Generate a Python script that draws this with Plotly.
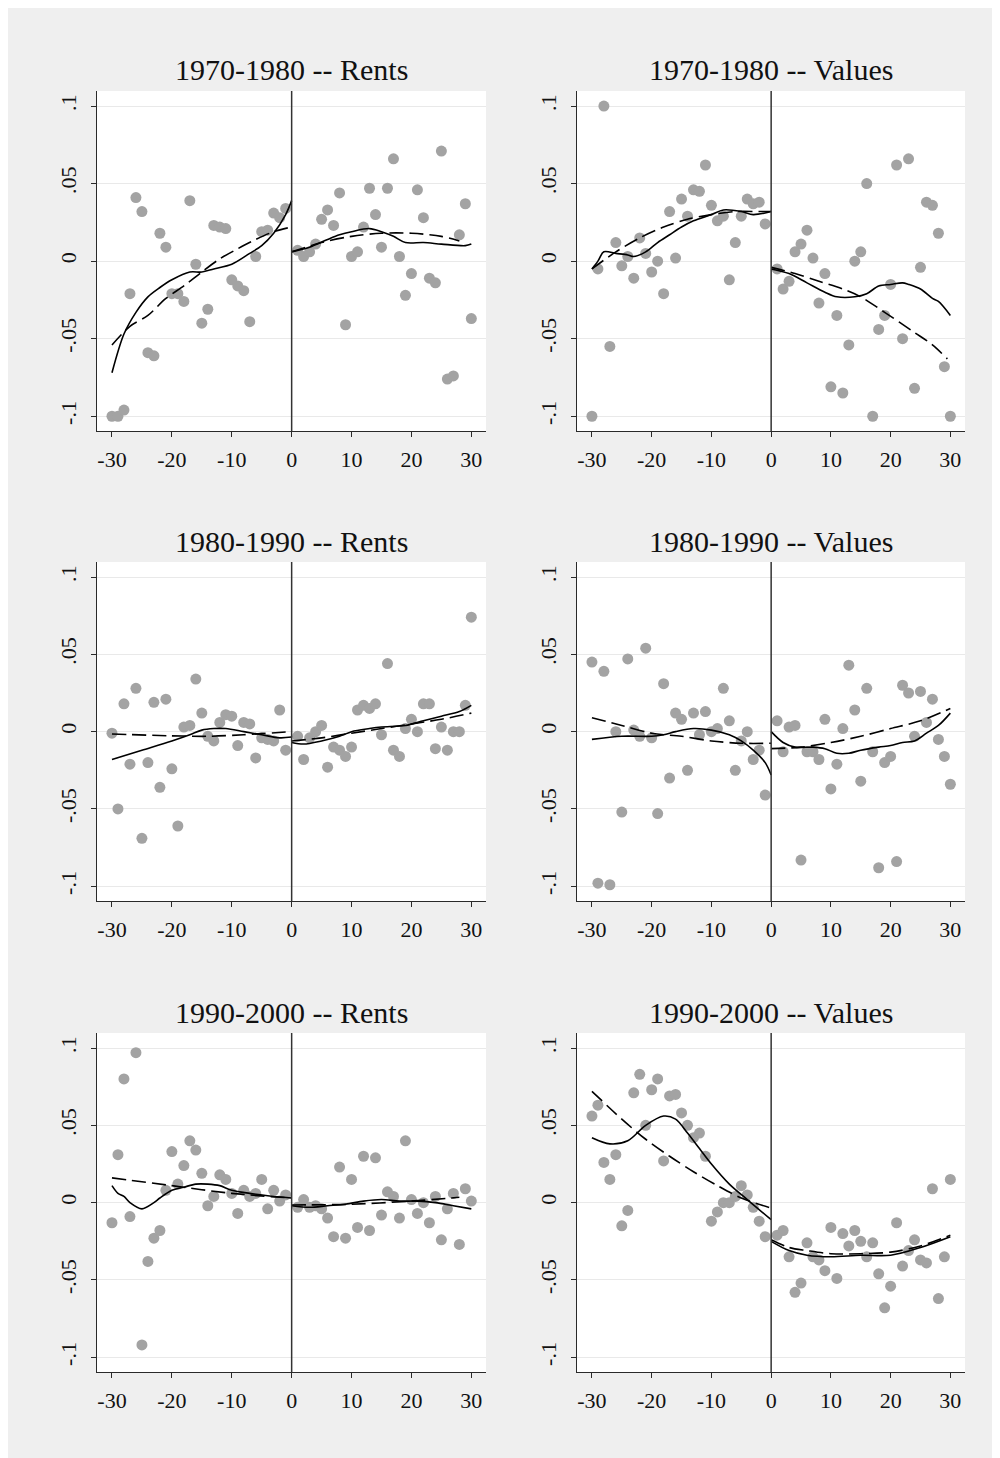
import plotly.graph_objects as go

# ---------------- data ----------------
X_LEFT = list(range(-30, 0))
X_RIGHT = list(range(1, 31))

TITLES = ["1970-1980 -- Rents", "1970-1980 -- Values",
          "1980-1990 -- Rents", "1980-1990 -- Values",
          "1990-2000 -- Rents", "1990-2000 -- Values"]

X_TICKS = [-30, -20, -10, 0, 10, 20, 30]
X_TICKTEXT = ["-30", "-20", "-10", "0", "10", "20", "30"]
Y_TICKS = [-0.1, -0.05, 0, 0.05, 0.1]
Y_TICKTEXT = ["-.1", "-.05", "0", ".05", ".1"]

# --- 1970-1980 Rents
r7080_left = [-0.100, -0.100, -0.096, -0.021, 0.041, 0.032, -0.059, -0.061, 0.018, 0.009,
              -0.021, -0.021, -0.026, 0.039, -0.002, -0.040, -0.031, 0.023, 0.022, 0.021,
              -0.012, -0.016, -0.019, -0.039, 0.003, 0.019, 0.020, 0.031, 0.028, 0.034]
r7080_right = [0.007, 0.003, 0.006, 0.011, 0.027, 0.033, 0.023, 0.044, -0.041, 0.003,
               0.006, 0.022, 0.047, 0.030, 0.009, 0.047, 0.066, 0.003, -0.022, -0.008,
               0.046, 0.028, -0.011, -0.014, 0.071, -0.076, -0.074, 0.017, 0.037, -0.037]
r7080_fitL_x = [-30, -27, -24, -21, -18, -15, -12, -9, -6, -3, 0]
r7080_fitL_y = [-0.054, -0.042, -0.035, -0.024, -0.016, -0.007, 0.0015, 0.008, 0.014, 0.019, 0.022]
r7080_lowL_x = [-30, -28, -26, -24, -22, -20, -17, -15, -13, -10, -7, -5, -3, -1, 0]
r7080_lowL_y = [-0.072, -0.047, -0.033, -0.023, -0.017, -0.012, -0.007, -0.007, -0.005, -0.002,
                0.005, 0.010, 0.018, 0.030, 0.039]
r7080_fitR_x = [0, 5, 10, 15, 20, 25, 28]
r7080_fitR_y = [0.006, 0.012, 0.016, 0.018, 0.018, 0.016, 0.013]
r7080_lowR_x = [0, 3, 6, 8, 10, 13, 15, 17, 19, 22, 25, 29, 30]
r7080_lowR_y = [0.006, 0.009, 0.014, 0.017, 0.019, 0.021, 0.019, 0.016, 0.012, 0.012, 0.011, 0.010, 0.011]

# --- 1970-1980 Values
v7080_left = [-0.100, -0.005, 0.100, -0.055, 0.012, -0.003, 0.003, -0.011, 0.015, 0.005,
              -0.007, 0.000, -0.021, 0.032, 0.002, 0.040, 0.029, 0.046, 0.045, 0.062,
              0.036, 0.026, 0.029, -0.012, 0.012, 0.029, 0.040, 0.037, 0.038, 0.024]
v7080_right = [-0.005, -0.018, -0.013, 0.006, 0.011, 0.020, 0.002, -0.027, -0.008, -0.081,
               -0.035, -0.085, -0.054, 0.000, 0.006, 0.050, -0.100, -0.044, -0.035, -0.015,
               0.062, -0.050, 0.066, -0.082, -0.004, 0.038, 0.036, 0.018, -0.068, -0.100]
v7080_fitL_x = [-30, -26, -22, -18, -14, -10, -6, -2, 0]
v7080_fitL_y = [-0.005, 0.006, 0.015, 0.022, 0.027, 0.030, 0.032, 0.032, 0.032]
v7080_lowL_x = [-30, -29, -28, -26, -24, -23, -21, -19, -17, -15, -13, -10, -8, -5, -3, 0]
v7080_lowL_y = [-0.005, 0.000, 0.006, 0.005, 0.004, 0.003, 0.006, 0.012, 0.017, 0.022, 0.026,
                0.030, 0.033, 0.032, 0.030, 0.032]
v7080_fitR_x = [0, 4, 8, 12, 15, 19, 24, 27, 29.5]
v7080_fitR_y = [-0.004, -0.008, -0.013, -0.018, -0.023, -0.033, -0.046, -0.054, -0.063]
v7080_lowR_x = [0, 3, 6, 9, 11, 14, 16, 18, 20, 22, 23, 25, 27, 28, 30]
v7080_lowR_y = [-0.005, -0.008, -0.014, -0.020, -0.023, -0.023, -0.021, -0.016, -0.015, -0.014,
                -0.015, -0.018, -0.024, -0.026, -0.035]

# --- 1980-1990 Rents
r8090_left = [-0.001, -0.050, 0.018, -0.021, 0.028, -0.069, -0.020, 0.019, -0.036, 0.021,
              -0.024, -0.061, 0.003, 0.004, 0.034, 0.012, -0.003, -0.006, 0.006, 0.011,
              0.010, -0.009, 0.006, 0.005, -0.017, -0.004, -0.005, -0.006, 0.014, -0.012]
r8090_right = [-0.003, -0.018, -0.004, 0.000, 0.004, -0.023, -0.010, -0.012, -0.016, -0.010,
               0.014, 0.017, 0.015, 0.018, -0.002, 0.044, -0.012, -0.016, 0.002, 0.008,
               0.000, 0.018, 0.018, -0.011, 0.003, -0.012, 0.000, 0.000, 0.017, 0.074]
r8090_fitL_x = [-30, -20, -14, -8, -1]
r8090_fitL_y = [-0.0015, -0.0027, -0.003, -0.002, -0.0002]
r8090_lowL_x = [-30, -25, -20, -17, -15, -13, -11, -8, -5, -2, 0]
r8090_lowL_y = [-0.018, -0.012, -0.006, -0.002, 0.001, 0.002, 0.002, 0.000, -0.002, -0.004, -0.0035]
r8090_fitR_x = [0, 5, 10, 15, 20, 25, 30]
r8090_fitR_y = [-0.006, -0.004, -0.001, 0.002, 0.005, 0.008, 0.012]
r8090_lowR_x = [0, 2, 5, 8, 10, 13, 15, 19, 22, 25, 28, 30]
r8090_lowR_y = [-0.007, -0.008, -0.006, -0.003, 0.000, 0.002, 0.003, 0.004, 0.007, 0.010, 0.013, 0.017]

# --- 1980-1990 Values
v8090_left = [0.045, -0.098, 0.039, -0.099, 0.000, -0.052, 0.047, 0.001, -0.003, 0.054,
              -0.004, -0.053, 0.031, -0.030, 0.012, 0.008, -0.025, 0.012, -0.002, 0.013,
              0.000, 0.002, 0.028, 0.007, -0.025, -0.006, 0.000, -0.018, -0.012, -0.041]
v8090_right = [0.007, -0.013, 0.003, 0.004, -0.083, -0.013, -0.013, -0.018, 0.008, -0.037,
               -0.021, 0.002, 0.043, 0.014, -0.032, 0.028, -0.013, -0.088, -0.020, -0.016,
               -0.084, 0.030, 0.025, -0.003, 0.026, 0.006, 0.021, -0.005, -0.016, -0.034]
v8090_fitL_x = [-30, -25, -20, -15, -10, -5, 0]
v8090_fitL_y = [0.009, 0.004, -0.001, -0.003, -0.006, -0.0075, -0.0075]
v8090_lowL_x = [-30, -25, -20, -18, -16, -13, -10, -7, -5, -3, -1, 0]
v8090_lowL_y = [-0.005, -0.003, -0.003, -0.002, 0.000, 0.002, 0.001, -0.002, -0.006, -0.012, -0.020, -0.028]
v8090_fitR_x = [0, 5, 10, 15, 20, 25, 30]
v8090_fitR_y = [-0.011, -0.010, -0.007, -0.003, 0.002, 0.007, 0.015]
v8090_lowR_x = [0, 2, 4, 7, 9, 11, 13, 15, 18, 20, 22, 24, 26, 28, 30]
v8090_lowR_y = [0.000, -0.007, -0.010, -0.010, -0.011, -0.014, -0.014, -0.012, -0.010, -0.009,
                -0.007, -0.006, -0.001, 0.004, 0.012]

# --- 1990-2000 Rents
r9000_left = [-0.013, 0.031, 0.080, -0.009, 0.097, -0.092, -0.038, -0.023, -0.018, 0.008,
              0.033, 0.012, 0.024, 0.040, 0.034, 0.019, -0.002, 0.004, 0.018, 0.015,
              0.006, -0.007, 0.008, 0.004, 0.006, 0.015, -0.004, 0.008, 0.001, 0.005]
r9000_right = [-0.003, 0.002, -0.003, -0.002, -0.004, -0.010, -0.022, 0.023, -0.023, 0.015,
               -0.016, 0.030, -0.018, 0.029, -0.008, 0.007, 0.004, -0.010, 0.040, 0.002,
               -0.007, 0.000, -0.013, 0.004, -0.024, -0.004, 0.006, -0.027, 0.009, 0.001]
r9000_fitL_x = [-30, -20, -10, 0]
r9000_fitL_y = [0.016, 0.011, 0.006, 0.003]
r9000_lowL_x = [-30, -29, -28, -27, -25, -23, -22, -20, -18, -16, -14, -12, -10, -7, -4, 0]
r9000_lowL_y = [0.011, 0.006, 0.004, 0.000, -0.004, 0.000, 0.003, 0.008, 0.010, 0.012, 0.012,
                0.011, 0.008, 0.006, 0.0045, 0.003]
r9000_fitR_x = [0, 10, 20, 28]
r9000_fitR_y = [-0.0015, -0.001, 0.001, 0.0035]
r9000_lowR_x = [0, 3, 6, 9, 12, 15, 18, 21, 24, 27, 30]
r9000_lowR_y = [-0.002, -0.003, -0.002, -0.001, 0.001, 0.002, 0.001, 0.001, 0.000, -0.002, -0.004]

# --- 1990-2000 Values
v9000_left = [0.056, 0.063, 0.026, 0.015, 0.031, -0.015, -0.005, 0.071, 0.083, 0.050,
              0.073, 0.080, 0.027, 0.069, 0.070, 0.058, 0.050, 0.042, 0.045, 0.030,
              -0.012, -0.006, 0.000, 0.000, 0.004, 0.011, 0.005, -0.003, -0.012, -0.022]
v9000_right = [-0.021, -0.018, -0.035, -0.058, -0.052, -0.026, -0.035, -0.037, -0.044, -0.016,
               -0.049, -0.020, -0.028, -0.018, -0.025, -0.035, -0.026, -0.046, -0.068, -0.054,
               -0.013, -0.041, -0.031, -0.024, -0.037, -0.039, 0.009, -0.062, -0.035, 0.015]
v9000_fitL_x = [-30, -25, -21, -17, -13, -9, -5, 0]
v9000_fitL_y = [0.072, 0.054, 0.041, 0.030, 0.020, 0.011, 0.003, -0.0035]
v9000_lowL_x = [-30, -27, -24, -21, -18, -16, -14, -12, -10, -7, -4, 0]
v9000_lowL_y = [0.042, 0.038, 0.040, 0.050, 0.056, 0.054, 0.045, 0.035, 0.025, 0.012, 0.002, -0.011]
v9000_fitR_x = [0, 3, 6, 10, 15, 20, 25, 30]
v9000_fitR_y = [-0.024, -0.029, -0.031, -0.033, -0.033, -0.032, -0.028, -0.021]
v9000_lowR_x = [0, 3, 6, 10, 15, 20, 25, 30]
v9000_lowR_y = [-0.025, -0.031, -0.034, -0.035, -0.034, -0.034, -0.029, -0.022]

PANELS = [
    (r7080_left, r7080_right, r7080_fitL_x, r7080_fitL_y, r7080_lowL_x, r7080_lowL_y,
     r7080_fitR_x, r7080_fitR_y, r7080_lowR_x, r7080_lowR_y),
    (v7080_left, v7080_right, v7080_fitL_x, v7080_fitL_y, v7080_lowL_x, v7080_lowL_y,
     v7080_fitR_x, v7080_fitR_y, v7080_lowR_x, v7080_lowR_y),
    (r8090_left, r8090_right, r8090_fitL_x, r8090_fitL_y, r8090_lowL_x, r8090_lowL_y,
     r8090_fitR_x, r8090_fitR_y, r8090_lowR_x, r8090_lowR_y),
    (v8090_left, v8090_right, v8090_fitL_x, v8090_fitL_y, v8090_lowL_x, v8090_lowL_y,
     v8090_fitR_x, v8090_fitR_y, v8090_lowR_x, v8090_lowR_y),
    (r9000_left, r9000_right, r9000_fitL_x, r9000_fitL_y, r9000_lowL_x, r9000_lowL_y,
     r9000_fitR_x, r9000_fitR_y, r9000_lowR_x, r9000_lowR_y),
    (v9000_left, v9000_right, v9000_fitL_x, v9000_fitL_y, v9000_lowL_x, v9000_lowL_y,
     v9000_fitR_x, v9000_fitR_y, v9000_lowR_x, v9000_lowR_y),
]

# ---------------- layout geometry (figure pixels; page adds an 8px body margin) ----------------
W, H = 1000, 1458
COL_X = [(89, 478), (569, 957)]
ROW_Y = [(83, 423), (554, 893), (1025, 1364)]
TITLE_Y = [62, 533, 1004]

FONT = "Liberation Serif, Times New Roman, serif"
AXIS_COLOR = "#2a2a2a"
GRID_COLOR = "#e9e9e9"
POINT_COLOR = "#a3a3a3"

fig = go.Figure()
layout = dict(
    width=W, height=H,
    margin=dict(l=0, r=0, t=0, b=0),
    paper_bgcolor="#efefef",
    plot_bgcolor="white",
    showlegend=False,
    font=dict(family=FONT, color="#111111"),
    shapes=[], annotations=[],
)

for i, p in enumerate(PANELS):
    (left, right, fLx, fLy, lLx, lLy, fRx, fRy, lRx, lRy) = p
    row, col = divmod(i, 2)
    n = i + 1
    xa = "x" if n == 1 else f"x{n}"
    ya = "y" if n == 1 else f"y{n}"
    xkey = "xaxis" if n == 1 else f"xaxis{n}"
    ykey = "yaxis" if n == 1 else f"yaxis{n}"
    x0, x1 = COL_X[col]
    yt, yb = ROW_Y[row]

    layout[xkey] = dict(
        domain=[x0 / W, x1 / W], anchor=ya, range=[-32.5, 32.45],
        tickvals=X_TICKS, ticktext=X_TICKTEXT, ticks="outside", ticklen=5,
        tickwidth=1.3, tickcolor=AXIS_COLOR, showline=True, linecolor=AXIS_COLOR,
        linewidth=1.3, showgrid=False, zeroline=False,
        tickfont=dict(family=FONT, size=22, color="#111111"), ticklabelstandoff=3,
    )
    layout[ykey] = dict(
        domain=[1 - yb / H, 1 - yt / H], anchor=xa, range=[-0.1095, 0.1097],
        tickvals=Y_TICKS, ticktext=Y_TICKTEXT, ticks="outside", ticklen=5,
        tickwidth=1.3, tickcolor=AXIS_COLOR, showline=True, linecolor=AXIS_COLOR,
        linewidth=1.3, showgrid=True, gridcolor=GRID_COLOR, gridwidth=1.3,
        zeroline=False, tickangle=-90,
        tickfont=dict(family=FONT, size=22, color="#111111"), ticklabelstandoff=6,
    )

    fig.add_trace(go.Scatter(
        x=X_LEFT + X_RIGHT, y=left + right, mode="markers", xaxis=xa, yaxis=ya,
        marker=dict(color=POINT_COLOR, size=11, line=dict(width=0)),
        hoverinfo="skip"))
    for lx, ly, dash in [(fLx, fLy, "14px,6px"), (lLx, lLy, "solid"),
                         (fRx, fRy, "14px,6px"), (lRx, lRy, "solid")]:
        fig.add_trace(go.Scatter(
            x=lx, y=ly, mode="lines", xaxis=xa, yaxis=ya,
            line=dict(color="black", width=1.6, dash=dash, shape="spline", smoothing=0.9),
            hoverinfo="skip"))

    layout["shapes"].append(dict(
        type="line", xref=xa, yref=f"{ya} domain", x0=0, x1=0, y0=0, y1=1,
        line=dict(color="#333333", width=1.5), layer="above"))
    layout["annotations"].append(dict(
        text=TITLES[i], xref="paper", yref="paper",
        x=(x0 + x1) / 2 / W, y=1 - TITLE_Y[row] / H, xanchor="center", yanchor="middle",
        showarrow=False, font=dict(family=FONT, size=30, color="#111111")))

fig.update_layout(**layout)
fig.write_html("out.html")
